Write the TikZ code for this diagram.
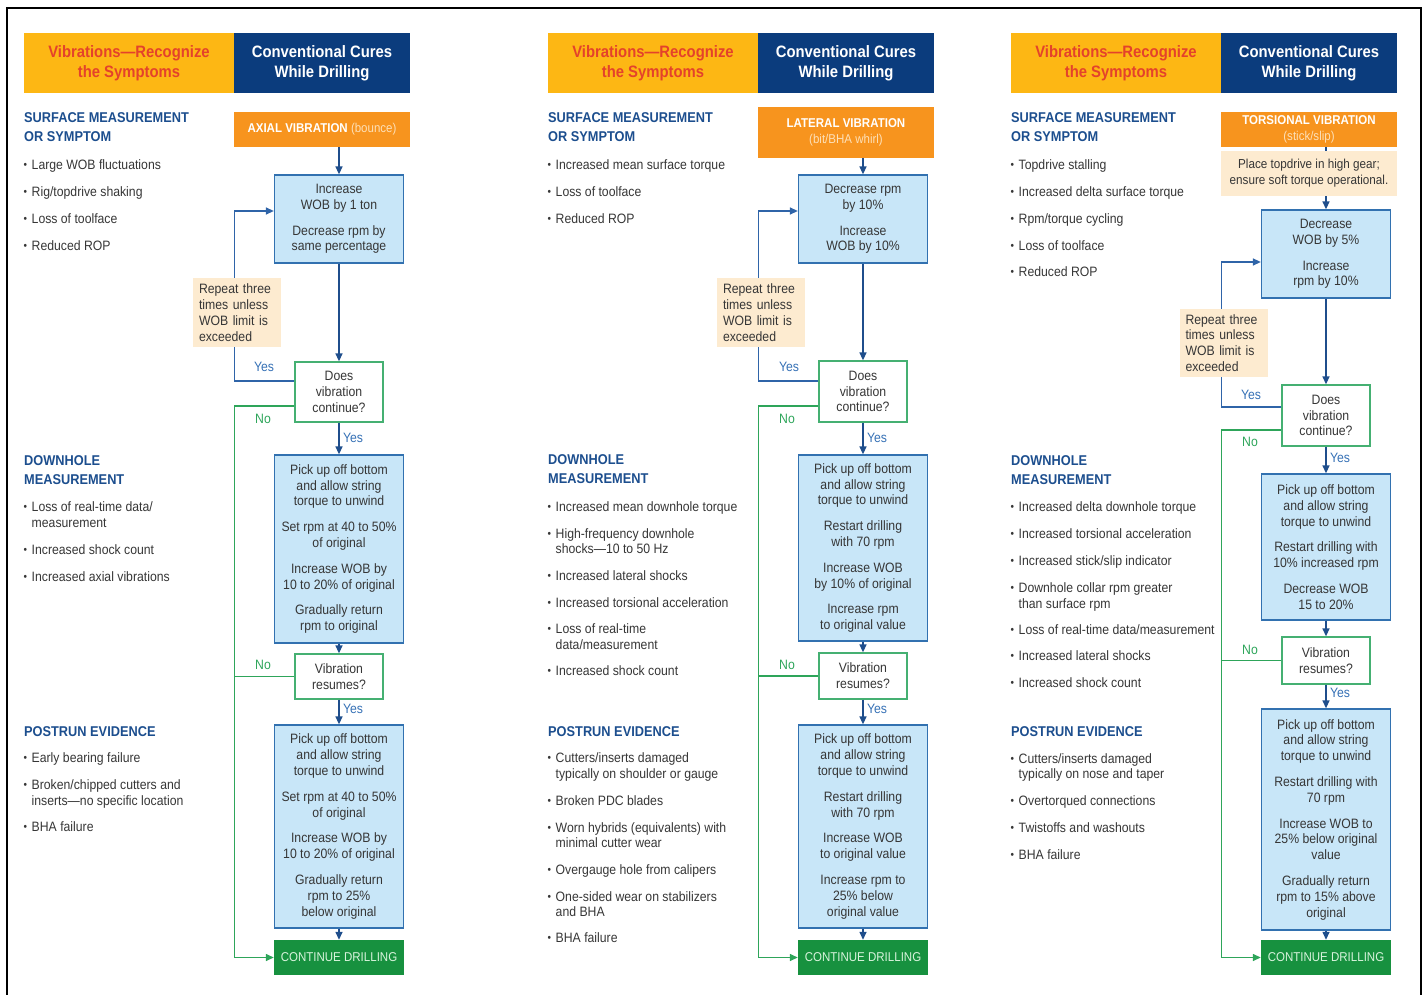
\documentclass[tikz,border=0pt]{standalone}
\usepackage{fontspec}
\setmainfont{Liberation Sans}[FakeStretch=0.9]
\usetikzlibrary{arrows.meta}
\definecolor{cyellow}{HTML}{FDB714}
\definecolor{cred}{HTML}{E4422B}
\definecolor{cnavy}{HTML}{0B3C7D}
\definecolor{chead}{HTML}{1C4E8E}
\definecolor{ctext}{HTML}{363636}
\definecolor{corange}{HTML}{F7941E}
\definecolor{cpeach}{HTML}{FDE0B8}
\definecolor{cbox}{HTML}{C8E6F8}
\definecolor{cboxline}{HTML}{3271B0}
\definecolor{carrow}{HTML}{1F4E8C}
\definecolor{cyesline}{HTML}{2F64A8}
\definecolor{cyes}{HTML}{3570B5}
\definecolor{cask}{HTML}{45B072}
\definecolor{cno}{HTML}{2EA55A}
\definecolor{ctan}{HTML}{FDEBD0}
\definecolor{cgo}{HTML}{17913F}
\definecolor{cgotext}{HTML}{D8F3DC}
\newcommand\fb{\fontsize{13.6}{15.8}\selectfont}
\newcommand\fh{\fontsize{14.2}{19}\selectfont\bfseries}
\newcommand\fhdr{\fontsize{16.5}{20}\selectfont\bfseries}
\newcommand\fv{\fontsize{12.8}{16}\selectfont}
\newcommand\bdot{\makebox[8pt][l]{\raisebox{0.8pt}{\fontsize{11}{11}\selectfont\textbullet}}}
\newcommand\bitem[2]{\node[bt] at (23.5,#1+4.5) {\bdot #2};}
\newcommand\bcont[2]{\node[bt] at (31.5,#1+4.5) {#2};}
\newcommand\hdline[2]{\node[hd] at (24,#1+5) {#2};}
\begin{document}
\begin{tikzpicture}[x=1pt,y=-1pt,
 hdrY/.style={fill=cyellow, text=cred, font=\fhdr, align=center, minimum width=210pt, minimum height=60pt, inner sep=0pt},
 hdrB/.style={fill=cnavy, text=white, font=\fhdr, align=center, minimum width=176pt, minimum height=60pt, inner sep=0pt},
 hd/.style={anchor=base west, inner sep=0pt, font=\fh, text=chead},
 bt/.style={anchor=base west, inner sep=0pt, font=\fb, text=ctext},
 vib/.style={fill=corange, text=white, font=\fv, align=center, minimum width=176pt, inner sep=0pt},
 cure/.style={draw=cboxline, fill=cbox, line width=1.3pt, font=\fb, text=ctext, align=center, minimum width=129pt, inner sep=0pt},
 ask/.style={draw=cask, fill=white, line width=1.3pt, font=\fb, text=ctext, align=center, minimum width=88pt, inner sep=0pt},
 memo/.style={fill=ctan, font=\fb, text=ctext, align=left, text width=76pt, inner xsep=6pt, inner ysep=0pt, minimum height=69pt},
 goon/.style={fill=cgo, text=cgotext, font=\fv, minimum width=130pt, minimum height=35pt, inner sep=0pt},
 flow/.style={draw=carrow, line width=1.4pt, -{Triangle[length=8pt,width=7pt]}},
 fline/.style={draw=carrow, line width=1.4pt},
 yloop/.style={draw=cyesline, line width=1.4pt, -{Triangle[length=8pt,width=7pt]}},
 nflow/.style={draw=cno, line width=1.4pt, -{Triangle[length=8pt,width=7pt]}},
 nline/.style={draw=cno, line width=1.4pt},
 ylab/.style={font=\fb, text=cyes, inner sep=0pt},
 nlab/.style={font=\fb, text=cno, inner sep=0pt}]
\useasboundingbox (0,0) rectangle (1425,995);
\draw[line width=2pt] (7,995) -- (7,8) -- (1421,8) -- (1421,995);

% ================= COLUMN 1 =================
\begin{scope}
\node[hdrY] (A-hy) at (129,63) {Vibrations—Recognize\\the Symptoms};
\node[hdrB] (A-hb) at (322,63) {Conventional Cures\\While Drilling};
\hdline{118}{SURFACE MEASUREMENT}
\hdline{137}{OR SYMPTOM}
\bitem{165}{Large WOB fluctuations}
\bitem{192}{Rig/topdrive shaking}
\bitem{219}{Loss of toolface}
\bitem{246}{Reduced ROP}
\hdline{460}{DOWNHOLE}
\hdline{479}{MEASUREMENT}
\bitem{507}{Loss of real-time data/}
\bcont{523}{measurement}
\bitem{550}{Increased shock count}
\bitem{577}{Increased axial vibrations}
\hdline{731}{POSTRUN EVIDENCE}
\bitem{758}{Early bearing failure}
\bitem{785}{Broken/chipped cutters and}
\bcont{801}{inserts—no specific location}
\bitem{827}{BHA failure}

\node[vib, minimum height=35pt] (A-vib) at (322,129.5) {\textbf{AXIAL VIBRATION} {\color{cpeach}(bounce)}};
\node[cure, minimum height=88pt] (A-b1) at (339,219) {Increase\\WOB by 1 ton\\[10pt]Decrease rpm by\\same percentage};
\node[ask, minimum height=60pt] (A-d1) at (339,392) {Does\\vibration\\continue?};
\node[cure, minimum height=188pt] (A-b2) at (339,549) {Pick up off bottom\\and allow string\\torque to unwind\\[10pt]Set rpm at 40 to 50\%\\of original\\[10pt]Increase WOB by\\10 to 20\% of original\\[10pt]Gradually return\\rpm to original};
\node[ask, minimum height=45pt] (A-d2) at (339,676.5) {Vibration\\resumes?};
\node[cure, minimum height=203pt] (A-b3) at (339,826.5) {Pick up off bottom\\and allow string\\torque to unwind\\[10pt]Set rpm at 40 to 50\%\\of original\\[10pt]Increase WOB by\\10 to 20\% of original\\[10pt]Gradually return\\rpm to 25\%\\below original};
\node[goon] (A-go) at (339,957.5) {CONTINUE DRILLING};

\draw[flow] (A-b1 |- A-vib.south) -- (A-b1.north);
\draw[flow] (A-b1.south) -- (A-d1.north);
\draw[flow] (A-d1.south) -- (A-b2.north);
\draw[flow] (A-b2.south) -- (A-d2.north);
\draw[flow] (A-d2.south) -- (A-b3.north);
\draw[flow] (A-b3.south) -- (A-go.north);
\draw[yloop] ([yshift=11pt]A-d1.west) -- ++(-60,0) |- ([yshift=8pt]A-b1.west);
\draw[nflow] ([yshift=-14pt]A-d1.west) -- ++(-60,0) |- (A-go.west);
\draw[nline] (A-d2.west) -- ++(-60,0);
\node[memo] (A-memo) at (237,312.5) {Repeat three\\times unless\\WOB limit is\\exceeded};
\node[ylab] (A-y1) at (264,367) {Yes};
\node[nlab] (A-n1) at (263,419) {No};
\node[ylab] (A-y2) at (353,438) {Yes};
\node[nlab] (A-n2) at (263,665) {No};
\node[ylab] (A-y3) at (353,709) {Yes};
\end{scope}

% ================= COLUMN 2 =================
\begin{scope}[xshift=524pt]
\node[hdrY] (B-hy) at (129,63) {Vibrations—Recognize\\the Symptoms};
\node[hdrB] (B-hb) at (322,63) {Conventional Cures\\While Drilling};
\hdline{118}{SURFACE MEASUREMENT}
\hdline{137}{OR SYMPTOM}
\bitem{165}{Increased mean surface torque}
\bitem{192}{Loss of toolface}
\bitem{219}{Reduced ROP}
\hdline{459}{DOWNHOLE}
\hdline{478}{MEASUREMENT}
\bitem{507}{Increased mean downhole torque}
\bitem{534}{High-frequency downhole}
\bcont{549}{shocks—10 to 50 Hz}
\bitem{576}{Increased lateral shocks}
\bitem{603}{Increased torsional acceleration}
\bitem{629}{Loss of real-time}
\bcont{645}{data/measurement}
\bitem{671}{Increased shock count}
\hdline{731}{POSTRUN EVIDENCE}
\bitem{758}{Cutters/inserts damaged}
\bcont{774}{typically on shoulder or gauge}
\bitem{801}{Broken PDC blades}
\bitem{828}{Worn hybrids (equivalents) with}
\bcont{843}{minimal cutter wear}
\bitem{870}{Overgauge hole from calipers}
\bitem{897}{One-sided wear on stabilizers}
\bcont{912}{and BHA}
\bitem{938}{BHA failure}

\node[vib, minimum height=51pt] (B-vib) at (322,132.5) {\textbf{LATERAL VIBRATION}\\{\color{cpeach}(bit/BHA whirl)}};
\node[cure, minimum height=88pt] (B-b1) at (339,219) {Decrease rpm\\by 10\%\\[10pt]Increase\\WOB by 10\%};
\node[ask, minimum height=61pt] (B-d1) at (339,391.5) {Does\\vibration\\continue?};
\node[cure, minimum height=186pt] (B-b2) at (339,548) {Pick up off bottom\\and allow string\\torque to unwind\\[10pt]Restart drilling\\with 70 rpm\\[10pt]Increase WOB\\by 10\% of original\\[10pt]Increase rpm\\to original value};
\node[ask, minimum height=46pt] (B-d2) at (339,676) {Vibration\\resumes?};
\node[cure, minimum height=203pt] (B-b3) at (339,826.5) {Pick up off bottom\\and allow string\\torque to unwind\\[10pt]Restart drilling\\with 70 rpm\\[10pt]Increase WOB\\to original value\\[10pt]Increase rpm to\\25\% below\\original value};
\node[goon] (B-go) at (339,957.5) {CONTINUE DRILLING};

\draw[flow] (B-b1 |- B-vib.south) -- (B-b1.north);
\draw[flow] (B-b1.south) -- (B-d1.north);
\draw[flow] (B-d1.south) -- (B-b2.north);
\draw[flow] (B-b2.south) -- (B-d2.north);
\draw[flow] (B-d2.south) -- (B-b3.north);
\draw[flow] (B-b3.south) -- (B-go.north);
\draw[yloop] ([yshift=10.5pt]B-d1.west) -- ++(-60,0) |- ([yshift=8pt]B-b1.west);
\draw[nflow] ([yshift=-14.5pt]B-d1.west) -- ++(-60,0) |- (B-go.west);
\draw[nline] (B-d2.west) -- ++(-60,0);
\node[memo] (B-memo) at (237,312.5) {Repeat three\\times unless\\WOB limit is\\exceeded};
\node[ylab] (B-y1) at (265,367) {Yes};
\node[nlab] (B-n1) at (263,419) {No};
\node[ylab] (B-y2) at (353,438) {Yes};
\node[nlab] (B-n2) at (263,665) {No};
\node[ylab] (B-y3) at (353,709) {Yes};
\end{scope}

% ================= COLUMN 3 =================
\begin{scope}[xshift=987pt]
\node[hdrY] (C-hy) at (129,63) {Vibrations—Recognize\\the Symptoms};
\node[hdrB] (C-hb) at (322,63) {Conventional Cures\\While Drilling};
\hdline{118}{SURFACE MEASUREMENT}
\hdline{137}{OR SYMPTOM}
\bitem{165}{Topdrive stalling}
\bitem{192}{Increased delta surface torque}
\bitem{219}{Rpm/torque cycling}
\bitem{246}{Loss of toolface}
\bitem{272}{Reduced ROP}
\hdline{460}{DOWNHOLE}
\hdline{479}{MEASUREMENT}
\bitem{507}{Increased delta downhole torque}
\bitem{534}{Increased torsional acceleration}
\bitem{561}{Increased stick/slip indicator}
\bitem{588}{Downhole collar rpm greater}
\bcont{604}{than surface rpm}
\bitem{630}{Loss of real-time data/measurement}
\bitem{656}{Increased lateral shocks}
\bitem{683}{Increased shock count}
\hdline{731}{POSTRUN EVIDENCE}
\bitem{759}{Cutters/inserts damaged}
\bcont{774}{typically on nose and taper}
\bitem{801}{Overtorqued connections}
\bitem{828}{Twistoffs and washouts}
\bitem{855}{BHA failure}

\node[vib, minimum height=35pt] (C-vib) at (322,129.5) {\textbf{TORSIONAL VIBRATION}\\{\color{cpeach}(stick/slip)}};
\node[fill=ctan, text=ctext, font=\fontsize{13}{16}\selectfont, align=center, minimum width=176pt, minimum height=45pt, inner sep=0pt] (C-tan) at (322,173.5) {Place topdrive in high gear;\\ensure soft torque operational.};
\node[cure, minimum height=88pt] (C-b1) at (339,254) {Decrease\\WOB by 5\%\\[10pt]Increase\\rpm by 10\%};
\node[ask, minimum height=61pt] (C-d1) at (339,415.5) {Does\\vibration\\continue?};
\node[cure, minimum height=146pt] (C-b2) at (339,547) {Pick up off bottom\\and allow string\\torque to unwind\\[10pt]Restart drilling with\\10\% increased rpm\\[10pt]Decrease WOB\\15 to 20\%};
\node[ask, minimum height=47pt] (C-d2) at (339,660.5) {Vibration\\resumes?};
\node[cure, minimum height=221pt] (C-b3) at (339,819.5) {Pick up off bottom\\and allow string\\torque to unwind\\[10pt]Restart drilling with\\70 rpm\\[10pt]Increase WOB to\\25\% below original\\value\\[10pt]Gradually return\\rpm to 15\% above\\original};
\node[goon] (C-go) at (339,957.5) {CONTINUE DRILLING};

\draw[fline] (C-b1 |- C-vib.south) -- (C-b1 |- C-tan.north);
\draw[flow] (C-b1 |- C-tan.south) -- (C-b1.north);
\draw[flow] (C-b1.south) -- (C-d1.north);
\draw[flow] (C-d1.south) -- (C-b2.north);
\draw[flow] (C-b2.south) -- (C-d2.north);
\draw[flow] (C-d2.south) -- (C-b3.north);
\draw[flow] (C-b3.south) -- (C-go.north);
\draw[yloop] ([yshift=8.5pt]C-d1.west) -- ++(-60,0) |- ([yshift=-8pt]C-b1.west);
\draw[nflow] ([yshift=-14.5pt]C-d1.west) -- ++(-60,0) |- (C-go.west);
\draw[nline] (C-d2.west) -- ++(-60,0);
\node[memo, minimum height=68pt] (C-memo) at (236.5,343) {Repeat three\\times unless\\WOB limit is\\exceeded};
\node[ylab] (C-y1) at (264,395) {Yes};
\node[nlab] (C-n1) at (263,442) {No};
\node[ylab] (C-y2) at (353,458) {Yes};
\node[nlab] (C-n2) at (263,650) {No};
\node[ylab] (C-y3) at (353,693) {Yes};
\end{scope}
\end{tikzpicture}
\end{document}
